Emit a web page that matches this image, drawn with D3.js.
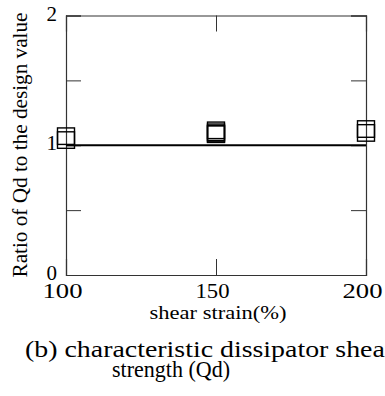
<!DOCTYPE html>
<html>
<head>
<meta charset="utf-8">
<script src="https://cdn.jsdelivr.net/npm/d3@7"></script>
<style>
  html, body { margin: 0; padding: 0; background: #fff; overflow: hidden; }
  svg { display: block; font-family: "Liberation Serif", "Times New Roman", serif; }
</style>
</head>
<body>
<svg id="chart" width="385" height="396"></svg>
<script>
// shear strain levels (%) and the measured Qd ratios at each level
var strainLevels = [100, 150, 200];
var ratioAt100 = [1.07, 1.04];
var ratioAt150 = [1.115, 1.10, 1.09, 1.085];
var ratioAt200 = [1.125, 1.095];
var designRatio = 1;

var xTicks = [100, 150, 200];
var yTicks = [0, 0.5, 1, 1.5, 2];
var yLabels = [0, 1, 2];

var points = [];
[ratioAt100, ratioAt150, ratioAt200].forEach(function(vals, i) {
  vals.forEach(function(v) { points.push({ strain: strainLevels[i], ratio: v }); });
});

var svg = d3.select('#chart');
var m = { left: 66, right: 366, top: 15.5, bottom: 275 };

var x = d3.scaleLinear().domain([100, 200]).range([m.left, m.right]);
var y = d3.scaleLinear().domain([0, 2]).range([m.bottom, m.top]);

// frame axes, ticks pointing inwards
var xAxis = d3.axisBottom(x).tickValues(xTicks).tickSize(-16).tickPadding(8);
var yAxis = d3.axisLeft(y).tickValues(yTicks).tickSize(-15).tickPadding(9)
  .tickFormat(function(d) { return yLabels.indexOf(d) >= 0 ? d : ''; });

var gx = svg.append('g').attr('transform', 'translate(0,' + m.bottom + ')').call(xAxis);
var gy = svg.append('g').attr('transform', 'translate(' + m.left + ',0)').call(yAxis);
svg.append('g').attr('transform', 'translate(0,' + m.top + ')')
  .call(d3.axisTop(x).tickValues(xTicks).tickSize(-16).tickFormat(''));
svg.append('g').attr('transform', 'translate(' + m.right + ',0)')
  .call(d3.axisRight(y).tickValues(yTicks).tickSize(-15).tickFormat(''));

svg.selectAll('g').attr('font-family', null).attr('font-size', null);
svg.selectAll('.domain').attr('stroke', '#333').attr('stroke-width', 1.2);
svg.selectAll('.tick line').attr('stroke', '#333').attr('stroke-width', 1);

gx.selectAll('text')
  .attr('font-size', 21).attr('fill', '#000')
  .attr('dx', -4)
  .attr('textLength', function(d) { return d === 150 ? 34 : 40; })
  .attr('lengthAdjust', 'spacingAndGlyphs');
gy.selectAll('text')
  .attr('font-size', 21).attr('fill', '#000')
  .attr('dy', '0.22em');

// design value reference
svg.append('line')
  .attr('x1', x(100)).attr('x2', x(200))
  .attr('y1', y(designRatio)).attr('y2', y(designRatio))
  .attr('stroke', '#000').attr('stroke-width', 2);

// open square markers
var sw = 17, sh = 16.5;
svg.append('g').selectAll('rect').data(points).enter().append('rect')
  .attr('x', function(d) { return x(d.strain) - sw / 2; })
  .attr('y', function(d) { return y(d.ratio) - sh / 2; })
  .attr('width', sw).attr('height', sh)
  .attr('fill', 'none').attr('stroke', '#000').attr('stroke-width', 1.4);

// axis titles
svg.append('text')
  .attr('transform', 'translate(27,145) rotate(-90)')
  .attr('text-anchor', 'middle').attr('font-size', 20)
  .attr('textLength', 265).attr('lengthAdjust', 'spacingAndGlyphs')
  .text('Ratio of Qd to the design value');

svg.append('text')
  .attr('x', 218).attr('y', 319)
  .attr('text-anchor', 'middle').attr('font-size', 19)
  .attr('textLength', 137).attr('lengthAdjust', 'spacingAndGlyphs')
  .text('shear strain(%)');

// caption, first line runs past the right edge
var cap1 = svg.append('text')
  .attr('font-size', 23)
  .text('(b) characteristic dissipator shea');
var stretch = 360 / cap1.node().getComputedTextLength();
cap1.text('(b) characteristic dissipator shear')
  .attr('transform', 'translate(25,357) scale(' + stretch + ',1)');

svg.append('text')
  .attr('x', 171).attr('y', 377)
  .attr('text-anchor', 'middle').attr('font-size', 23)
  .attr('textLength', 118).attr('lengthAdjust', 'spacingAndGlyphs')
  .text('strength (Qd)');
</script>
</body>
</html>
